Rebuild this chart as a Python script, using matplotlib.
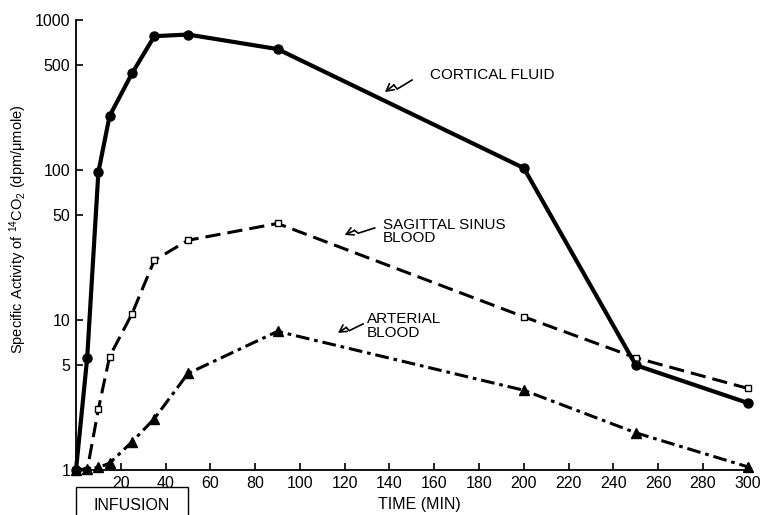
import matplotlib
matplotlib.use("Agg")
import matplotlib.pyplot as plt
import matplotlib.transforms as mtransforms
from matplotlib.patches import Rectangle
from matplotlib.lines import Line2D

plt.rcParams['font.family'] = ['Liberation Sans', 'DejaVu Sans']
plt.rcParams['mathtext.fontset'] = 'custom'
plt.rcParams['mathtext.rm'] = 'Liberation Sans'
plt.rcParams['mathtext.it'] = 'Liberation Sans:italic'

# Sampling times (min) and specific activities (dpm/umole)
cortical_time = [0, 5, 10, 15, 25, 35, 50, 90, 200, 250, 300]
cortical_sa = [1.0, 5.6, 97, 229, 440, 780, 800, 640, 103, 5.0, 2.8]

sinus_time = [0, 5, 10, 15, 25, 35, 50, 90, 200, 250, 300]
sinus_sa = [1.0, 1.0, 2.55, 5.7, 11, 25, 34, 44, 10.5, 5.6, 3.5]

arterial_time = [0, 5, 10, 15, 25, 35, 50, 90, 200, 250, 300]
arterial_sa = [1.0, 1.02, 1.04, 1.11, 1.54, 2.2, 4.4, 8.4, 3.4, 1.77, 1.05]

x_ticks = [20, 40, 60, 80, 100, 120, 140, 160, 180, 200, 220, 240, 260, 280, 300]
x_tick_labels = [str(t) for t in x_ticks]
y_ticks = [1, 5, 10, 50, 100, 500, 1000]
y_tick_labels = ['1', '5', '10', '50', '100', '500', '1000']

infusion_start, infusion_end = 0, 50

fig = plt.figure(figsize=(7.61, 5.15), dpi=100)
ax = fig.add_axes([76 / 761, 45 / 515, 674 / 761, 450 / 515])

ax.plot(cortical_time, cortical_sa, color='black', lw=3.0, marker='o',
        ms=6.5, mfc='black', mec='black', clip_on=False, zorder=4,
        solid_joinstyle='round')
ax.plot(sinus_time, sinus_sa, color='black', lw=2.2, dashes=(5, 2.3),
        marker='s', ms=4.5, mfc='white', mec='black', mew=1.0,
        clip_on=False, zorder=3)
ax.plot(arterial_time, arterial_sa, color='black', lw=2.2,
        dashes=(4.5, 1.6, 1.2, 1.6), marker='^', ms=6.5, mfc='black',
        mec='black', clip_on=False, zorder=3)

ax.set_yscale('log')
ax.set_xlim(0, 301)
ax.set_ylim(1, 1000)

ax.set_xticks(x_ticks)
ax.set_xticklabels(x_tick_labels)
ax.set_yticks(y_ticks)
ax.set_yticklabels(y_tick_labels)
ax.yaxis.set_minor_locator(matplotlib.ticker.NullLocator())
ax.tick_params(axis='both', direction='in', length=5, width=1.2,
               labelsize=11.5, pad=4)

for side in ('top', 'right'):
    ax.spines[side].set_visible(False)
for side in ('left', 'bottom'):
    ax.spines[side].set_linewidth(1.3)

ax.set_xlabel('TIME (MIN)', fontsize=11.5, va='center')
ax.xaxis.set_label_coords(0.509, -0.076)
ax.set_ylabel(r'Specific Activity of $^{\mathrm{14}}$CO$_{\mathrm{2}}$ (dpm/μmole)',
              fontsize=10.5, va='center')
ax.yaxis.set_label_coords(-0.086, 0.535)

# Infusion period marker below the time axis
box_trans = mtransforms.blended_transform_factory(ax.transData, ax.transAxes)
ax.add_patch(Rectangle((infusion_start, -0.15), infusion_end - infusion_start,
                       0.112, transform=box_trans, fill=False, lw=1.0,
                       ec='black', clip_on=False))
ax.text((infusion_start + infusion_end) / 2, -0.079, 'INFUSION',
        transform=box_trans, ha='center', va='center', fontsize=11.5)

# Curve labels with squiggly pointers
fig.canvas.draw()


def squiggle(tip, end):
    tx, ty = ax.transData.transform(tip)
    ex, ey = end
    pts = [(tx, ty), (tx + 0.33 * ex, ty + 0.5 * ey + 1),
           (tx + 0.45 * ex, ty + 0.25 * ey), (tx + ex, ty + ey)]
    inv = fig.transFigure.inverted()
    fpts = inv.transform(pts)
    fig.add_artist(Line2D(fpts[1:, 0], fpts[1:, 1], color='black', lw=1.2))
    ax.annotate('', xy=tip, xycoords='data', xytext=fpts[1],
                textcoords='figure fraction',
                arrowprops=dict(arrowstyle='->,head_length=0.5,head_width=0.28',
                                color='black', lw=1.2, shrinkA=0, shrinkB=0))


ax.text(158, 430, 'CORTICAL FLUID', fontsize=11, ha='left', va='center')
squiggle((138, 331), (27, 12))

ax.text(137, 39, 'SAGITTAL SINUS\nBLOOD', fontsize=11, ha='left',
        va='center', linespacing=0.95)
squiggle((120, 36.9), (30, 7))

ax.text(130, 9.1, 'ARTERIAL\nBLOOD', fontsize=11, ha='left', va='center',
        linespacing=0.95)
squiggle((117, 8.2), (25, 9))

fig.savefig('out.png', dpi=100)
